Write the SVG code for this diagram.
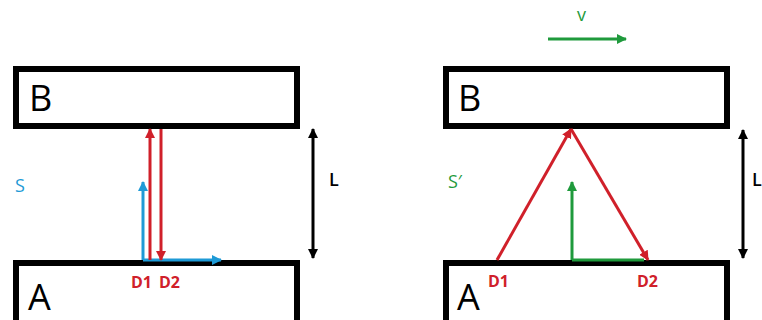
<svg xmlns="http://www.w3.org/2000/svg" width="762" height="320" viewBox="0 0 762 320">
<style>
.box{fill:#fff;stroke:#000;stroke-width:6}
.big{font-family:"Open Sans","Noto Sans",sans-serif;font-size:36px;fill:#000}
.lbl{font-family:"Open Sans","Noto Sans",sans-serif;font-size:18px}
.d{font-family:"Open Sans","Noto Sans",sans-serif;font-size:16px;font-weight:bold;fill:#d0202a}
.red{stroke:#d0202a;stroke-width:3;fill:none}
.blue{stroke:#1e9ad6;stroke-width:3;fill:none}
.green{stroke:#1f9a3c;stroke-width:3;fill:none}
.blk{stroke:#000;stroke-width:3;fill:none}
</style>
<defs>
<marker id="ar" viewBox="0 0 10 10" refX="9" refY="5" markerWidth="10" markerHeight="10" markerUnits="userSpaceOnUse" orient="auto-start-reverse"><path d="M0,0L10,5L0,10z" fill="#d0202a"/></marker>
<marker id="ab" viewBox="0 0 10 10" refX="9" refY="5" markerWidth="10" markerHeight="10" markerUnits="userSpaceOnUse" orient="auto-start-reverse"><path d="M0,0L10,5L0,10z" fill="#1e9ad6"/></marker>
<marker id="ag" viewBox="0 0 10 10" refX="9" refY="5" markerWidth="10" markerHeight="10" markerUnits="userSpaceOnUse" orient="auto-start-reverse"><path d="M0,0L10,5L0,10z" fill="#1f9a3c"/></marker>
<marker id="ak" viewBox="0 0 10 10" refX="9" refY="5" markerWidth="10" markerHeight="10" markerUnits="userSpaceOnUse" orient="auto-start-reverse"><path d="M0,0L10,5L0,10z" fill="#000"/></marker>
</defs>

<g id="left-B"><rect class="box" x="16" y="69" width="281" height="57"/><text class="big" x="29" y="111">B</text></g>
<g id="left-A"><rect class="box" x="16" y="263" width="281" height="70"/><text class="big" x="28" y="310">A</text></g>
<g id="right-B"><rect class="box" x="446" y="69" width="281" height="57"/><text class="big" x="458" y="111">B</text></g>
<g id="right-A"><rect class="box" x="446" y="263" width="281" height="70"/><text class="big" x="457" y="310">A</text></g>

<g id="labels">
<text class="lbl" x="15" y="192" fill="#1e9ad6">S</text>
<text class="lbl" x="329" y="186" fill="#000" font-weight="600">L</text>
<text class="d" x="131" y="288">D1</text>
<text class="d" x="159" y="288">D2</text>
<text class="lbl" x="448" y="188" fill="#1f9a3c">S′</text>
<text class="lbl" x="752" y="186" fill="#000" font-weight="600">L</text>
<text class="d" x="488" y="287">D1</text>
<text class="d" x="637" y="287">D2</text>
<text class="lbl" x="577" y="21" fill="#1f9a3c" font-size="15">v</text>
</g>

<g id="connectors">
<path class="blue" d="M143,260V182" marker-end="url(#ab)"/>
<path class="blue" d="M143,260H221" marker-end="url(#ab)"/>
<path class="red" d="M150,260V129" marker-end="url(#ar)"/>
<path class="red" d="M161,129V260" marker-end="url(#ar)"/>
<path class="blk" d="M313,129V258" marker-start="url(#ak)" marker-end="url(#ak)"/>

<path class="green" d="M548,39H626" marker-end="url(#ag)"/>
<path class="green" d="M572,260V182" marker-end="url(#ag)"/>
<path class="green" d="M572,260H644"/>
<path class="red" d="M497,260L571,129" marker-end="url(#ar)"/>
<path class="red" d="M571,129L648,260" marker-end="url(#ar)"/>
<path class="blk" d="M743,130V258" marker-start="url(#ak)" marker-end="url(#ak)"/>
</g>
</svg>
